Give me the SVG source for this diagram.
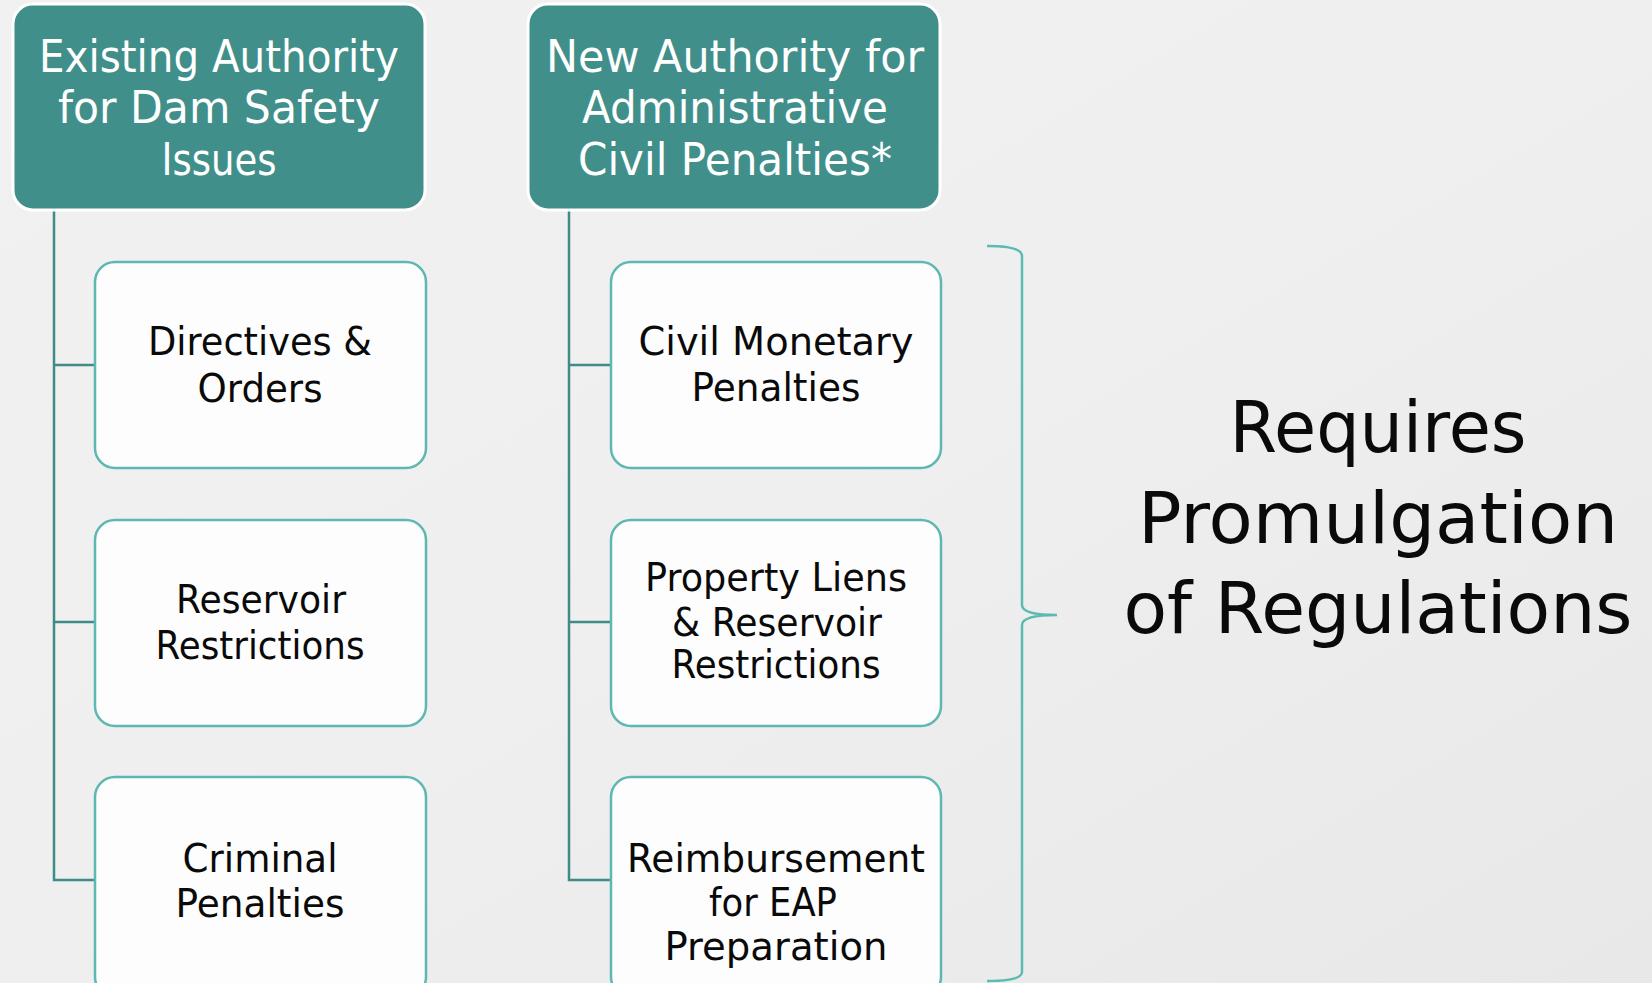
<svg xmlns="http://www.w3.org/2000/svg" width="1652" height="983" viewBox="0 0 1652 983">
<defs>
<linearGradient id="bg" x1="0" y1="0" x2="1" y2="1">
<stop offset="0" stop-color="#F1F1F1"/>
<stop offset="0.5" stop-color="#EFEFEF"/>
<stop offset="1" stop-color="#E8E8E8"/>
</linearGradient>
<style>
.hdr rect{fill:#418F8A;stroke:#FFFFFF;stroke-width:3}
.hdr text{fill:#FFFFFF;font-family:"Century Gothic","URW Gothic","DejaVu Sans",sans-serif;font-size:44px;text-anchor:middle}
.child rect{fill:#FDFDFD;stroke:#5DB8B1;stroke-width:2.5}
.child text{fill:#0A0A0A;font-family:"Century Gothic","URW Gothic","DejaVu Sans",sans-serif;font-size:39px;text-anchor:middle}
.conn{fill:none;stroke:#3F8C87;stroke-width:2.5}
.brace{fill:none;stroke:#5BBAB2;stroke-width:2.5}
.big{fill:#0A0A0A;font-family:"Century Gothic","URW Gothic","DejaVu Sans",sans-serif;font-size:72px;text-anchor:middle}
</style>
</defs>
<rect width="1652" height="983" fill="url(#bg)"/>
<g id="connectors">
<path class="conn" d="M54 210 V880 H95 M54 365 H95 M54 622 H95"/>
<path class="conn" d="M569 210 V880 H611 M569 365 H611 M569 622 H611"/>
</g>
<g id="h1" class="hdr">
<rect x="13" y="4" width="412" height="206" rx="20"/>
<text x="219" y="72" textLength="360" lengthAdjust="spacingAndGlyphs">Existing Authority</text>
<text x="219" y="123" textLength="322" lengthAdjust="spacingAndGlyphs">for Dam Safety</text>
<text x="219" y="175" textLength="115" lengthAdjust="spacingAndGlyphs">Issues</text>
</g>
<g id="h2" class="hdr">
<rect x="528" y="4" width="412" height="206" rx="20"/>
<text x="735" y="72" textLength="378" lengthAdjust="spacingAndGlyphs">New Authority for</text>
<text x="735" y="123" textLength="306" lengthAdjust="spacingAndGlyphs">Administrative</text>
<text x="735" y="175" textLength="314" lengthAdjust="spacingAndGlyphs">Civil Penalties*</text>
</g>
<g id="c1" class="child">
<rect x="95" y="262" width="331" height="206" rx="20"/>
<text x="260" y="355" textLength="224" lengthAdjust="spacingAndGlyphs">Directives &amp;</text>
<text x="260" y="402" textLength="125" lengthAdjust="spacingAndGlyphs">Orders</text>
</g>
<g id="c2" class="child">
<rect x="95" y="520" width="331" height="206" rx="20"/>
<text x="261" y="613" textLength="170" lengthAdjust="spacingAndGlyphs">Reservoir</text>
<text x="260" y="659" textLength="209" lengthAdjust="spacingAndGlyphs">Restrictions</text>
</g>
<g id="c3" class="child">
<rect x="95" y="777" width="331" height="220" rx="20"/>
<text x="260" y="872" textLength="155" lengthAdjust="spacingAndGlyphs">Criminal</text>
<text x="260" y="917" textLength="169" lengthAdjust="spacingAndGlyphs">Penalties</text>
</g>
<g id="c4" class="child">
<rect x="611" y="262" width="330" height="206" rx="20"/>
<text x="776" y="355" textLength="275" lengthAdjust="spacingAndGlyphs">Civil Monetary</text>
<text x="776" y="401" textLength="169" lengthAdjust="spacingAndGlyphs">Penalties</text>
</g>
<g id="c5" class="child">
<rect x="611" y="520" width="330" height="206" rx="20"/>
<text x="776" y="591" textLength="262" lengthAdjust="spacingAndGlyphs">Property Liens</text>
<text x="777" y="636" textLength="210" lengthAdjust="spacingAndGlyphs">&amp; Reservoir</text>
<text x="776" y="678" textLength="209" lengthAdjust="spacingAndGlyphs">Restrictions</text>
</g>
<g id="c6" class="child">
<rect x="611" y="777" width="330" height="220" rx="20"/>
<text x="776" y="872" textLength="298" lengthAdjust="spacingAndGlyphs">Reimbursement</text>
<text x="773" y="916" textLength="128" lengthAdjust="spacingAndGlyphs">for EAP</text>
<text x="776" y="960" textLength="223" lengthAdjust="spacingAndGlyphs">Preparation</text>
</g>
<g id="bracket">
<path class="brace" d="M987 246 Q1022 246 1022 256 V605 Q1022 615 1057 615 Q1022 615 1022 625 V972 Q1022 981 987 981"/>
</g>
<g id="note">
<text class="big" x="1378" y="452" textLength="297" lengthAdjust="spacingAndGlyphs">Requires</text>
<text class="big" x="1378" y="543" textLength="480" lengthAdjust="spacingAndGlyphs">Promulgation</text>
<text class="big" x="1378" y="633" textLength="509" lengthAdjust="spacingAndGlyphs">of Regulations</text>
</g>
</svg>
